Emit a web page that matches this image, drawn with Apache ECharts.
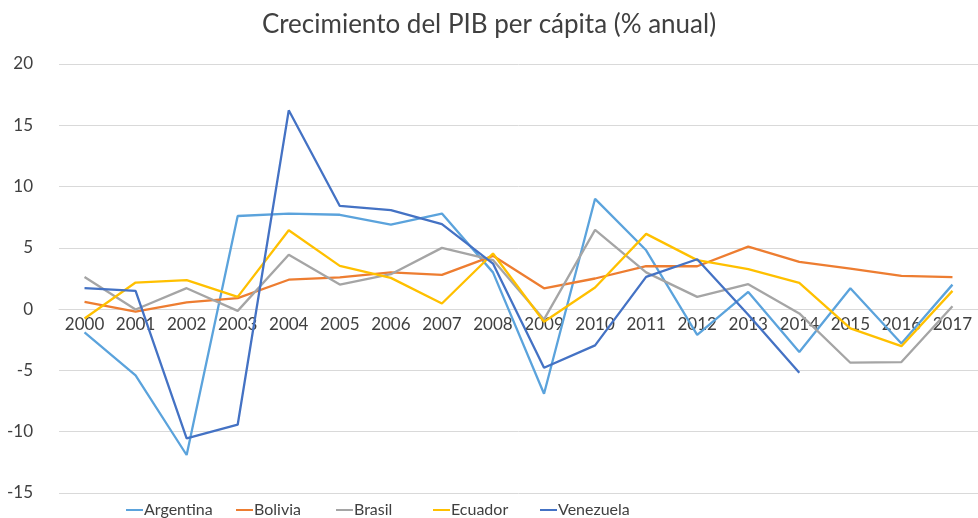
<!DOCTYPE html>
<html>
<head>
<meta charset="utf-8">
<script src="https://cdn.jsdelivr.net/npm/echarts@6/dist/echarts.min.js"></script>
<style>
  html, body { margin: 0; padding: 0; background: #fff; }
  #chart { width: 978px; height: 518px; }
</style>
</head>
<body>
<div id="chart"></div>
<script>
const years = ['2000', '2001', '2002', '2003', '2004', '2005', '2006', '2007', '2008',
  '2009', '2010', '2011', '2012', '2013', '2014', '2015', '2016', '2017'];

const argentina = [-1.9, -5.4, -11.9, 7.6, 7.8, 7.7, 6.9, 7.8, 3.0, -6.9, 9.0, 4.8, -2.1, 1.4, -3.5, 1.7, -2.8, 2.0];
const bolivia = [0.6, -0.2, 0.55, 0.9, 2.4, 2.6, 3.0, 2.8, 4.35, 1.7, 2.5, 3.5, 3.5, 5.1, 3.86, 3.3, 2.72, 2.61];
const brasil = [2.63, -0.03, 1.71, -0.14, 4.43, 2.01, 2.85, 5.0, 4.0, -0.84, 6.47, 3.0, 1.0, 2.04, -0.35, -4.37, -4.32, 0.24];
const ecuador = [-0.76, 2.17, 2.36, 1.0, 6.44, 3.53, 2.55, 0.46, 4.54, -1.03, 1.77, 6.14, 4.0, 3.26, 2.15, -1.57, -3.02, 1.49];
const venezuela = [1.71, 1.49, -10.54, -9.43, 16.22, 8.42, 8.07, 6.93, 3.72, -4.78, -2.96, 2.63, 4.07, -0.45, -5.19, null, null, null];

const names = ['Argentina', 'Bolivia', 'Brasil', 'Ecuador', 'Venezuela'];
const colors = ['#5ba3dc', '#ed7d31', '#a5a5a5', '#ffc000', '#4472c4'];
const values = [argentina, bolivia, brasil, ecuador, venezuela];
// left edge of each legend entry, as in the original layout
const legendLeft = [126, 236, 336, 433, 540];

const chart = echarts.init(document.getElementById('chart'));

const yMin = -15, yMax = 20;
const gridTop = 64, gridBottom = 25;
// the year labels sit on the zero line, so shift the x axis up from the grid bottom
const plotH = 518 - gridTop - gridBottom;
const zeroShift = plotH * (0 - yMin) / (yMax - yMin);

const options = {
  animation: false,
  color: colors,
  textStyle: { fontFamily: 'Lato' },
  title: {
    text: 'Crecimiento del PIB per cápita (% anual)',
    left: 'center',
    top: 7,
    textStyle: { fontFamily: 'Lato', fontSize: 26, fontWeight: 'normal', color: '#404040' }
  },
  legend: names.map((name, i) => ({
    top: 502,
    left: legendLeft[i],
    padding: 0,
    itemWidth: 17,
    itemHeight: 2,
    itemGap: 0,
    icon: 'rect',
    textStyle: {
      fontFamily: '"Liberation Sans Narrow", Lato', fontSize: 16, color: '#404040',
      padding: [0, 0, 0, -4]
    },
    data: [name]
  })),
  grid: { left: 59, right: 0, top: gridTop, bottom: gridBottom },
  xAxis: {
    type: 'category',
    data: years,
    boundaryGap: true,
    offset: -zeroShift,
    axisLine: { onZero: false, lineStyle: { color: '#d9d9d9' } },
    axisTick: { show: false },
    axisLabel: { interval: 0, fontSize: 17, color: '#404040', margin: 7 }
  },
  yAxis: {
    type: 'value',
    min: yMin,
    max: yMax,
    interval: 5,
    axisLine: { show: false },
    axisTick: { show: false },
    axisLabel: { fontSize: 17, color: '#404040', margin: 26 },
    splitLine: { lineStyle: { color: '#d9d9d9', width: 1 } }
  },
  series: names.map((name, i) => ({
    name: name,
    type: 'line',
    data: values[i],
    symbol: 'none',
    lineStyle: { width: 2.3 },
    connectNulls: false
  }))
};

chart.setOption(options);
</script>
</body>
</html>
